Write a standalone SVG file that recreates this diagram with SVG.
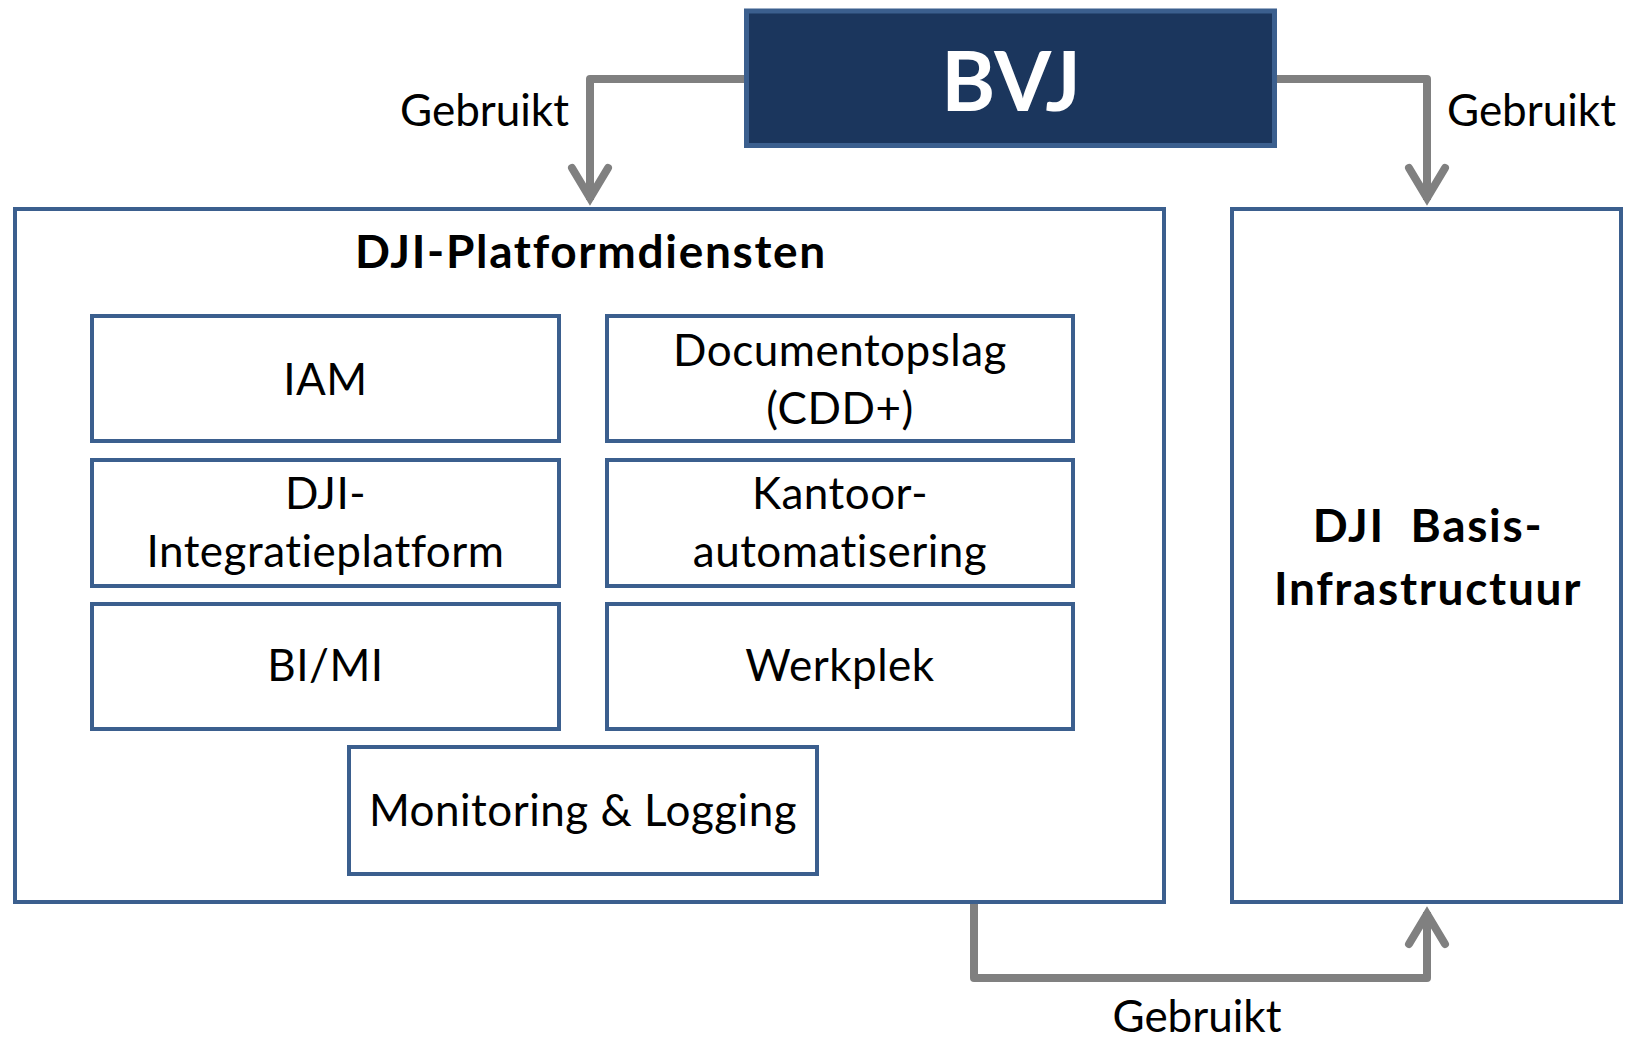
<svg xmlns="http://www.w3.org/2000/svg" width="1625" height="1038" viewBox="0 0 1625 1038">
<style>
.box{fill:#ffffff;stroke:#3B5F8E;stroke-width:4}
.bvj{fill:#1B365D;stroke:#3B5F8E;stroke-width:5}
.t{font-family:Lato,"Open Sans",sans-serif;font-size:44px;letter-spacing:0.5px;fill:#000;text-anchor:middle}
.b{font-family:Lato,"Open Sans",sans-serif;font-weight:bold;font-size:46px;letter-spacing:1.7px;fill:#000;text-anchor:middle}
.lbl{font-family:Lato,"Open Sans",sans-serif;font-size:44px;fill:#000}
.con{fill:none;stroke:#808080;stroke-width:8;stroke-linejoin:round}
.head{fill:none;stroke:#808080;stroke-width:8;stroke-linecap:round;stroke-linejoin:miter;stroke-miterlimit:10}
</style>
<rect width="1625" height="1038" fill="#ffffff"/>
<g id="platform">
<rect class="box" x="15" y="209" width="1149" height="693"/>
<text class="b" x="591" y="268">DJI-Platformdiensten</text>
</g>
<g id="basis">
<rect class="box" x="1232" y="209" width="389" height="693"/>
<text class="b" x="1428" y="542">DJI&#160; Basis-</text>
<text class="b" x="1428" y="605">Infrastructuur</text>
</g>
<g id="bvj">
<rect class="bvj" x="746.5" y="11" width="528" height="134.5"/>
<text x="1011" y="111" font-family="Lato,'Open Sans',sans-serif" font-weight="bold" font-size="82" fill="#ffffff" text-anchor="middle">BVJ</text>
</g>
<g id="iam">
<rect class="box" x="92" y="316" width="467" height="125"/>
<text class="t" x="325.5" y="395">IAM</text>
</g>
<g id="documentopslag">
<rect class="box" x="607" y="316" width="466" height="125"/>
<text class="t" x="840" y="366">Documentopslag</text>
<text class="t" x="840" y="424">(CDD+)</text>
</g>
<g id="integratieplatform">
<rect class="box" x="92" y="460" width="467" height="126"/>
<text class="t" x="325.5" y="509">DJI-</text>
<text class="t" x="325.5" y="567">Integratieplatform</text>
</g>
<g id="kantoor">
<rect class="box" x="607" y="460" width="466" height="126"/>
<text class="t" x="840" y="509">Kantoor-</text>
<text class="t" x="840" y="567">automatisering</text>
</g>
<g id="bimi">
<rect class="box" x="92" y="604" width="467" height="125"/>
<text class="t" x="325.5" y="681">BI/MI</text>
</g>
<g id="werkplek">
<rect class="box" x="607" y="604" width="466" height="125"/>
<text class="t" x="840" y="681">Werkplek</text>
</g>
<g id="monitoring">
<rect class="box" x="349" y="747" width="468" height="127"/>
<text class="t" x="583" y="826">Monitoring &amp; Logging</text>
</g>
<g id="connectors">
<path class="con" d="M744 79 H590 V200"/>
<polyline class="head" points="572,168 590,198 608,168"/>
<text class="lbl" x="569" y="126" text-anchor="end">Gebruikt</text>
<path class="con" d="M1277 79 H1427 V200"/>
<polyline class="head" points="1409,168 1427,198 1445,168"/>
<text class="lbl" x="1447" y="126">Gebruikt</text>
<path class="con" d="M974 904 V978 H1427 V912"/>
<polyline class="head" points="1409,944 1427,914 1445,944"/>
<text class="lbl" x="1197" y="1032" text-anchor="middle">Gebruikt</text>
</g>
</svg>
